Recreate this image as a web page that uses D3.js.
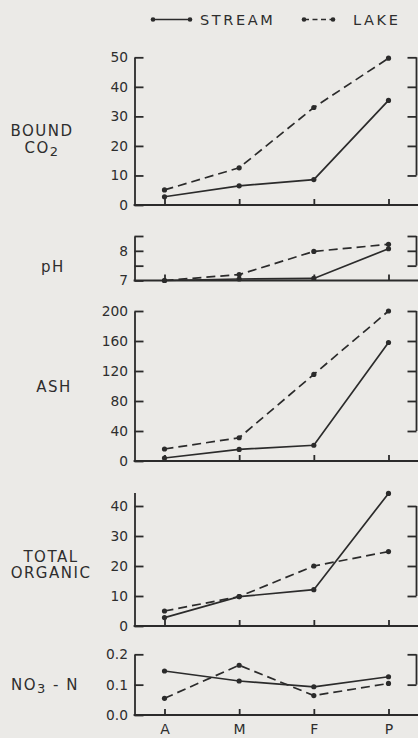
<!DOCTYPE html>
<html>
<head>
<meta charset="utf-8">
<script src="https://cdn.jsdelivr.net/npm/d3@7"></script>
<style>
  html, body { margin: 0; padding: 0; background: #ebeae7; }
  svg { display: block; }
  text { font-family: "DejaVu Sans", sans-serif; fill: #2e2e2e; }
</style>
</head>
<body>
<svg id="chart" width="418" height="738"></svg>
<script>
// Sampling sites along the x axis
const categories = ["A", "M", "F", "P"];

// Bound CO2
const co2Stream = [2.8, 6.5, 8.6, 35.4];
const co2Lake   = [5.1, 12.6, 33.0, 49.7];
const co2Ticks  = [0, 10, 20, 30, 40, 50];

// pH
const phStream = [7.0, 7.05, 7.07, 8.07];
const phLake   = [7.0, 7.2, 7.98, 8.22];
const phTicks  = [7, 7.5, 8, 8.5];
const phLabels = [7, 8];

// Ash
const ashStream = [4, 15.5, 21, 158];
const ashLake   = [16, 31, 115.5, 200];
const ashTicks  = [0, 40, 80, 120, 160, 200];

// Total organic
const orgStream = [2.8, 9.8, 12.1, 44.2];
const orgLake   = [5.0, 9.8, 20.0, 24.8];
const orgTicks  = [0, 10, 20, 30, 40];

// NO3-N
const no3Stream = [0.145, 0.112, 0.093, 0.126];
const no3Lake   = [0.055, 0.164, 0.064, 0.104];
const no3Ticks  = [0, 0.1, 0.2];

const ink = "#2b2b2b";
const svg = d3.select("#chart");

const axisLeftX = 134.5;
const axisRightX = 416.5;
const x = d3.scalePoint().domain(categories).range([164.5, 388.5]);

const panels = [
  { name: ["BOUND", "CO2"], stream: co2Stream, lake: co2Lake, domain: [0, 50], range: [205, 57.3],
    ticks: co2Ticks, fmt: d => d3.format("d")(d) },
  { name: ["pH"], stream: phStream, lake: phLake, domain: [7, 8.5], range: [280.5, 236],
    ticks: phTicks, fmt: d => phLabels.includes(d) ? String(d) : "" },
  { name: ["ASH"], stream: ashStream, lake: ashLake, domain: [0, 200], range: [461, 311],
    ticks: ashTicks, fmt: d => d3.format("d")(d) },
  { name: ["TOTAL", "ORGANIC"], stream: orgStream, lake: orgLake, domain: [0, 44.5], range: [626, 492.5],
    ticks: orgTicks, fmt: d => d3.format("d")(d) },
  { name: ["NO3-N"], stream: no3Stream, lake: no3Lake, domain: [0, 0.2], range: [715, 654.3],
    ticks: no3Ticks, fmt: d3.format(".1f") }
];

// Label positions beside each panel (centre x, baselines)
const labelPos = [
  { cx: 42, ys: [136, 153] },
  { cx: 53, ys: [271.5] },
  { cx: 54, ys: [392] },
  { cx: 51, ys: [561.5, 578] },
  { cx: 45, ys: [690] }
];

function styleAxis(g) {
  g.selectAll("path, line").attr("stroke", ink).attr("stroke-width", 1.8);
  g.selectAll("text").style("font-family", "DejaVu Sans, sans-serif")
    .attr("fill", "#2e2e2e");
}

panels.forEach((p, i) => {
  const y = d3.scaleLinear().domain(p.domain).range(p.range);
  const g = svg.append("g");

  // left axis with inward ticks
  const left = g.append("g").attr("transform", `translate(${axisLeftX},0)`)
    .call(d3.axisLeft(y).tickValues(p.ticks).tickFormat(p.fmt)
      .tickSizeInner(-9).tickSizeOuter(0).tickPadding(6.5));
  left.selectAll("text").style("font-size", "13.8px");
  styleAxis(left);

  // right axis with inward ticks, no labels
  const right = g.append("g").attr("transform", `translate(${axisRightX},0)`)
    .call(d3.axisRight(y).tickValues(p.ticks.filter(t => t !== p.domain[0]))
      .tickFormat("").tickSizeInner(-9).tickSizeOuter(0));
  right.select(".domain").remove();
  right.append("line").attr("x1", 0).attr("x2", 0)
    .attr("y1", y(p.ticks[p.ticks.length - 1])).attr("y2", y(p.ticks[1]));
  styleAxis(right);

  // baseline across the full width
  g.append("line")
    .attr("x1", axisLeftX - 0.9).attr("x2", 418)
    .attr("y1", p.range[0]).attr("y2", p.range[0])
    .attr("stroke", ink).attr("stroke-width", 1.8);

  // bottom ticks pointing up at each site
  const last = i === panels.length - 1;
  const bottom = g.append("g").attr("transform", `translate(0,${p.range[0]})`)
    .call(d3.axisBottom(x).tickSizeInner(-6).tickSizeOuter(0).tickPadding(9.5)
      .tickFormat(last ? (d => d) : ""));
  bottom.select(".domain").remove();
  bottom.selectAll("text").style("font-size", "14px");
  styleAxis(bottom);

  // series lines
  const line = d3.line().x((d, k) => x(categories[k])).y(d => y(d));
  g.append("path").datum(p.lake).attr("d", line)
    .attr("fill", "none").attr("stroke", ink).attr("stroke-width", 1.7)
    .attr("stroke-dasharray", "9,5");
  g.append("path").datum(p.stream).attr("d", line)
    .attr("fill", "none").attr("stroke", ink).attr("stroke-width", 1.7);

  [p.lake, p.stream].forEach(s => {
    g.selectAll(null).data(s).enter().append("circle")
      .attr("cx", (d, k) => x(categories[k])).attr("cy", d => y(d))
      .attr("r", 2.6).attr("fill", ink);
  });

  // panel name
  const lp = labelPos[i];
  p.name.forEach((n, k) => {
    const t = g.append("text")
      .attr("x", lp.cx).attr("y", lp.ys[k])
      .attr("text-anchor", "middle")
      .style("font-size", "15px").style("letter-spacing", "1.5px");
    if (n === "CO2") {
      t.append("tspan").text("CO");
      t.append("tspan").text("2").attr("dy", 3).style("font-size", "13px");
    } else if (n === "NO3-N") {
      t.append("tspan").text("NO");
      t.append("tspan").text("3").attr("dy", 3).style("font-size", "13px");
      t.append("tspan").text(" - N").attr("dy", -3);
    } else {
      t.text(n);
    }
  });
});

// Legend
const legend = svg.append("g");
const legendY = 19.5;
const legendItems = [
  { label: "STREAM", x1: 153, x2: 190, tx: 200, dash: null },
  { label: "LAKE", x1: 304, x2: 333, tx: 353, dash: "5,3.5" }
];
legendItems.forEach(it => {
  legend.append("line")
    .attr("x1", it.x1).attr("x2", it.x2).attr("y1", legendY).attr("y2", legendY)
    .attr("stroke", ink).attr("stroke-width", 1.5)
    .attr("stroke-dasharray", it.dash);
  [it.x1, it.x2].forEach(cx => legend.append("circle")
    .attr("cx", cx).attr("cy", legendY).attr("r", 2.3).attr("fill", ink));
  legend.append("text").attr("x", it.tx).attr("y", legendY + 5.4)
    .style("font-size", "14.5px").style("letter-spacing", "2.6px").text(it.label);
});
</script>
</body>
</html>
